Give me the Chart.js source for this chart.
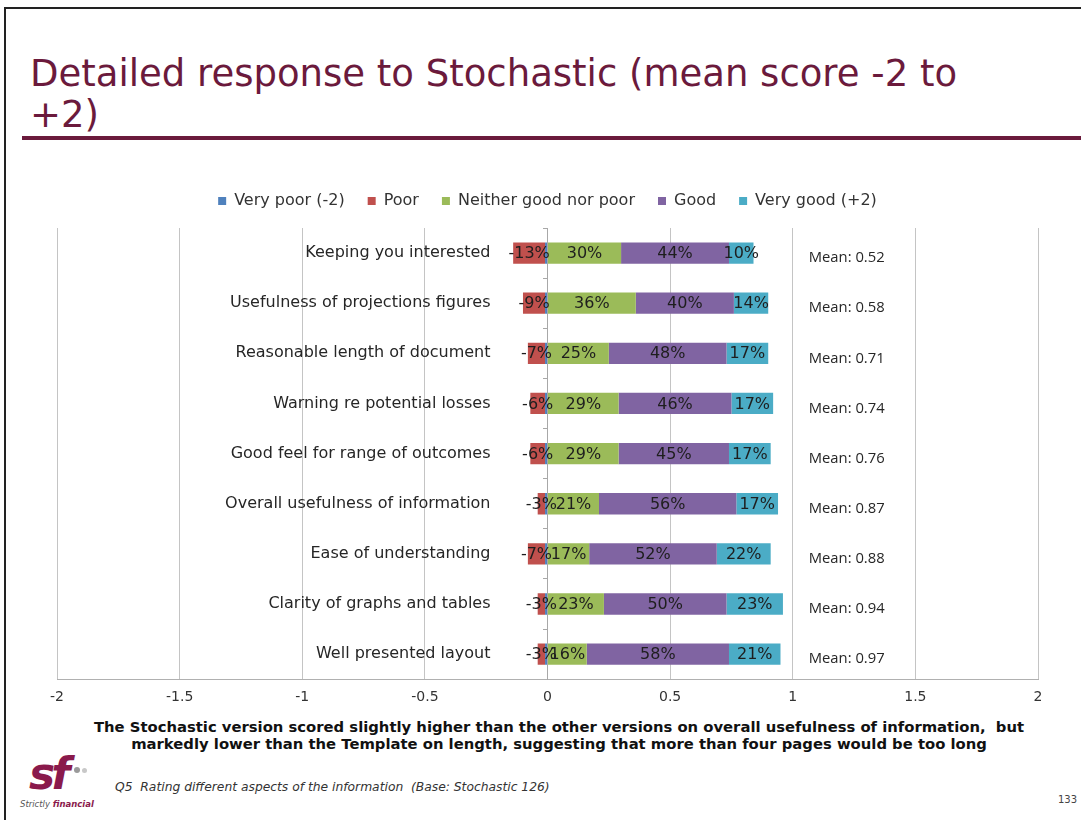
<!DOCTYPE html>
<html>
<head>
<meta charset="utf-8">
<script src="https://cdn.jsdelivr.net/npm/chart.js@4.4.1/dist/chart.umd.min.js"></script>
<style>
  body { margin: 0; width: 1081px; height: 820px; overflow: hidden; position: relative; background: #fff; font-family: "DejaVu Sans", sans-serif; }
  .frameTop { position: absolute; left: 4px; right: 0; top: 7px; height: 2px; background: #222; }
  .frameLeft { position: absolute; left: 4px; top: 7px; bottom: 0; width: 2px; background: #222; }
  #title { position: absolute; left: 30px; top: 53px; font-size: 37px; line-height: 41px; color: #6b1a3c; white-space: nowrap; }
  #rule { position: absolute; left: 22px; right: 0; top: 136px; height: 4px; background: #6b1a3c; }
  #chartBox { position: absolute; left: 0; top: 170px; }
  #caption { position: absolute; left: 40px; width: 1038px; top: 718px; text-align: center; font-weight: bold; font-size: 14.8px; line-height: 17px; color: #111; white-space: nowrap; }
  #note { position: absolute; left: 115px; top: 780px; font-style: italic; font-size: 12.3px; color: #333; }
  #page { position: absolute; left: 1058px; top: 794px; font-size: 10px; color: #444; }
  #logo { position: absolute; left: 20px; top: 750px; width: 90px; height: 65px; }
  #logo .sf { position: absolute; left: 9px; top: -2px; font-size: 44px; font-weight: bold; font-style: italic; color: #8a1a4c; letter-spacing: -4px; }
  #logo .d1 { position: absolute; left: 54px; top: 17px; width: 6px; height: 6px; border-radius: 3px; background: #9a9a9a; }
  #logo .d2 { position: absolute; left: 62px; top: 18px; width: 5px; height: 5px; border-radius: 3px; background: #c8c8c8; }
  #logo .tag { position: absolute; left: 0; top: 49px; font-size: 8.5px; font-style: italic; color: #555; white-space: nowrap; }
  #logo .tag b { color: #8a1a4c; }
</style>
</head>
<body>
<div class="frameTop"></div>
<div class="frameLeft"></div>
<div id="title">Detailed response to Stochastic (mean score -2 to<br>+2)</div>
<div id="rule"></div>
<div id="chartBox"><canvas id="chart" width="1081" height="546"></canvas></div>
<div id="caption">The Stochastic version scored slightly higher than the other versions on overall usefulness of information,&nbsp; but<br>markedly lower than the Template on length, suggesting that more than four pages would be too long</div>
<div id="logo"><span class="sf">sf</span><span class="d1"></span><span class="d2"></span><span class="tag">Strictly <b>financial</b></span></div>
<div id="note">Q5&nbsp; Rating different aspects of the information&nbsp; (Base: Stochastic 126)</div>
<div id="page">133</div>

<script>
// rows, top to bottom
const categories = [
  "Keeping you interested",
  "Usefulness of projections figures",
  "Reasonable length of document",
  "Warning re potential losses",
  "Good feel for range of outcomes",
  "Overall usefulness of information",
  "Ease of understanding",
  "Clarity of graphs and tables",
  "Well presented layout"
];

// percentages (negative side drawn to the left of 0)
const veryPoor = [-1, -1, -1, -1, -1, -1, -1, -1, -1];
const poor     = [-13, -9, -7, -6, -6, -3, -7, -3, -3];
const neither  = [30, 36, 25, 29, 29, 21, 17, 23, 16];
const good     = [44, 40, 48, 46, 45, 56, 52, 50, 58];
const veryGood = [10, 14, 17, 17, 17, 17, 22, 23, 21];

const means = ["0.52", "0.58", "0.71", "0.74", "0.76", "0.87", "0.88", "0.94", "0.97"];

const seriesNames = ["Very poor (-2)", "Poor", "Neither good nor poor", "Good", "Very good (+2)"];
const seriesColors = ["#4f81bd", "#c0504d", "#9bbb59", "#8064a2", "#4bacc6"];
const seriesValues = [veryPoor, poor, neither, good, veryGood];

const FONT = '"DejaVu Sans", sans-serif';

// legend sits a bit higher above the plot than chart.js puts it
const legendGap = {
  id: 'legendGap',
  afterInit(chart) {
    const fit = chart.legend.fit;
    chart.legend.fit = function () {
      fit.call(this);
      this.height += 9;
    };
  }
};

const textLabels = {
  id: 'textLabels',
  afterDatasetsDraw(chart) {
    const ctx = chart.ctx;
    const xs = chart.scales.x, ys = chart.scales.y;
    ctx.save();
    ctx.textBaseline = 'middle';

    // values inside the segments
    ctx.font = '16px ' + FONT;
    ctx.fillStyle = '#1e1e1e';
    ctx.textAlign = 'center';
    chart.data.datasets.forEach((ds, i) => {
      if (i === 0) return; // very poor has no label
      chart.getDatasetMeta(i).data.forEach((bar, j) => {
        const c = bar.getCenterPoint();
        ctx.fillText(ds.pct[j] + '%', c.x, c.y + 1);
      });
    });

    // category names left of the bars
    const x0 = xs.getPixelForValue(0);
    ctx.textAlign = 'right';
    ctx.fillStyle = '#262626';
    categories.forEach((name, j) => {
      ctx.fillText(name, x0 - 57, ys.getPixelForValue(j));
    });

    // means on the right
    const x1 = xs.getPixelForValue(1);
    ctx.font = '14.8px "Open Sans", sans-serif';
    ctx.textAlign = 'left';
    means.forEach((m, j) => {
      ctx.fillText('Mean: ' + m, x1 + 16, ys.getPixelForValue(j) + 5);
    });
    ctx.restore();
  }
};

new Chart(document.getElementById('chart'), {
  type: 'bar',
  data: {
    labels: categories,
    datasets: seriesNames.map((name, i) => ({
      label: name,
      data: seriesValues[i].map(v => v / 100),
      pct: seriesValues[i],
      backgroundColor: seriesColors[i],
      borderWidth: 0,
      barPercentage: 0.85,
      categoryPercentage: 0.5
    }))
  },
  options: {
    indexAxis: 'y',
    responsive: false,
    animation: false,
    layout: { padding: { left: 57, right: 43, top: 0, bottom: 0 } },
    plugins: {
      tooltip: { enabled: false },
      legend: {
        position: 'top',
        labels: {
          boxWidth: 8,
          boxHeight: 8,
          padding: 23,
          color: '#333',
          font: { size: 16, family: FONT }
        }
      }
    },
    scales: {
      x: {
        stacked: true,
        min: -2,
        max: 2,
        ticks: {
          stepSize: 0.5,
          padding: 10,
          color: '#333',
          font: { size: 14, family: FONT },
          callback: v => String(v)
        },
        grid: { color: '#c4c4c4', drawTicks: false },
        border: { color: '#b0b0b0' }
      },
      y: {
        stacked: true,
        position: { x: 0 },
        ticks: { display: false },
        grid: { drawOnChartArea: false, tickLength: 4, color: '#a8a8a8' },
        border: { color: '#a8a8a8' }
      }
    }
  },
  plugins: [legendGap, textLabels]
});
</script>
</body>
</html>
